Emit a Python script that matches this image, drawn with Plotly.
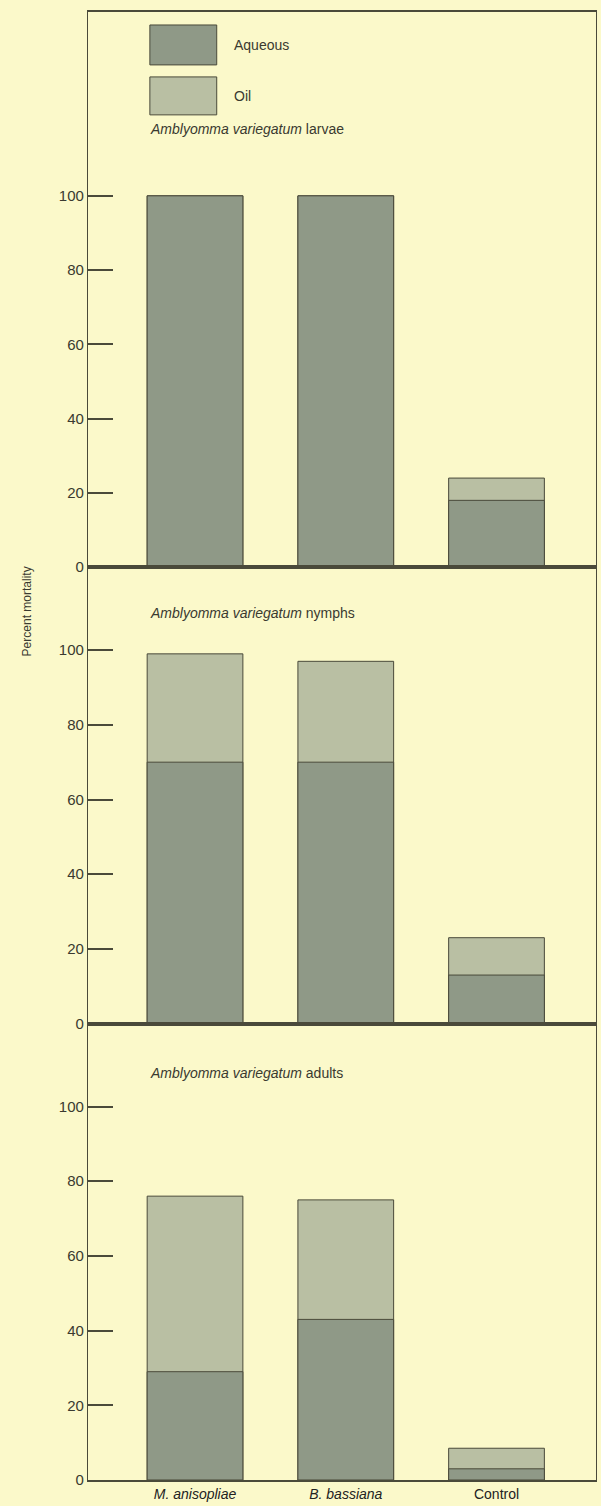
import plotly.graph_objects as go
from plotly.subplots import make_subplots

# data (percent mortality)
categories = ["M. anisopliae", "B. bassiana", "Control"]
tick_text = ["<i>M. anisopliae</i>", "<i>B. bassiana</i>", "Control"]
stages = ["larvae", "nymphs", "adults"]

larvae_aqueous = [100, 100, 18]
larvae_oil = [100, 100, 24]
nymphs_aqueous = [70, 70, 13]
nymphs_oil = [99, 97, 23]
adults_aqueous = [29, 43, 3]
adults_oil = [76, 75, 8.5]

aqueous = [larvae_aqueous, nymphs_aqueous, adults_aqueous]
oil = [larvae_oil, nymphs_oil, adults_oil]

bg = "#FBF9CA"
dark = "#8F9987"
light = "#B9BFA3"
ink = "#4A4A3A"
txt = "#3A3A30"
font = "Liberation Sans, Arial, sans-serif"

fig = make_subplots(rows=3, cols=1, vertical_spacing=0)

for i in range(3):
    r = i + 1
    fig.add_trace(go.Bar(x=categories, y=oil[i], name="Oil", marker=dict(color=light, line=dict(color=ink, width=1)),
                         width=0.635, showlegend=False), row=r, col=1)
    fig.add_trace(go.Bar(x=categories, y=aqueous[i], name="Aqueous", marker=dict(color=dark, line=dict(color=ink, width=1)),
                         width=0.635, showlegend=False), row=r, col=1)

# panel heights: larvae panel holds the legend so it is taller
domains = [[0.6218, 1.0], [0.3109, 0.6218], [0.0, 0.3109]]
yranges = [[0, 149.5], [0, 122.2], [0, 122.2]]

for i in range(3):
    r = i + 1
    fig.update_yaxes(domain=domains[i], range=yranges[i], tickvals=[0, 20, 40, 60, 80, 100],
                     ticks="inside", ticklen=25, tickwidth=1.5, tickcolor=ink,
                     showline=True, linecolor=ink, linewidth=1.2, mirror=True,
                     showgrid=False, zeroline=False,
                     tickfont=dict(family=font, size=15, color=txt), row=r, col=1)
    fig.update_xaxes(range=[-0.71, 2.66], showline=True, linecolor=ink, linewidth=1.5, mirror=True,
                     showgrid=False, ticks="", showticklabels=(r == 3),
                     tickvals=categories, ticktext=tick_text,
                     tickfont=dict(family=font, size=14, color="#222"), row=r, col=1)
    fig.add_annotation(text="<i>Amblyomma variegatum</i> " + stages[i], xref="paper", x=0.118, xanchor="left",
                       yref="y%s" % ("" if r == 1 else r), y=[118, 110, 109][i], yanchor="middle",
                       showarrow=False, font=dict(family=font, size=14, color=txt))

# legend boxes
leg = [("Aqueous", dark, 0.99116, 0.96395), ("Oil", light, 0.95578, 0.92993)]
for name, col, y1, y0 in leg:
    fig.add_shape(type="rect", xref="paper", yref="paper", x0=0.1218, x1=0.2534, y0=y0, y1=y1,
                  fillcolor=col, line=dict(color=ink, width=1))
    fig.add_annotation(text=name, xref="paper", yref="paper", x=0.283, xanchor="left", y=(y0 + y1) / 2,
                       yanchor="middle", showarrow=False, font=dict(family=font, size=14, color=txt))

fig.add_annotation(text="Percent mortality", xref="paper", yref="paper", x=-0.1375, y=0.5918, textangle=-90,
                   showarrow=False, font=dict(family=font, size=12, color=txt))

fig.update_layout(
    width=601, height=1506,
    margin=dict(l=88, r=4, t=12, b=24),
    barmode="overlay",
    paper_bgcolor=bg, plot_bgcolor=bg,
    showlegend=False,
)

fig.write_html("out.html", config={"displayModeBar": False}, post_script="document.body.style.margin='0';")
